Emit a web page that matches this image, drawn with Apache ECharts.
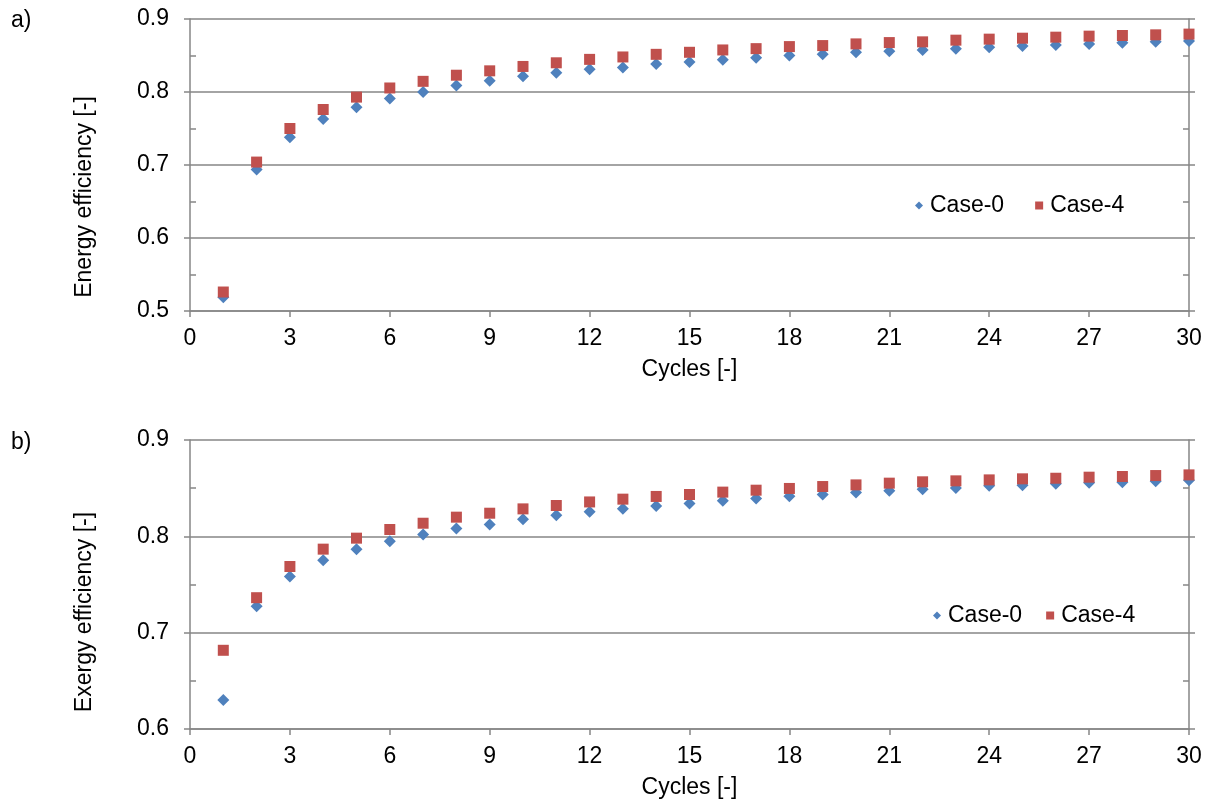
<!DOCTYPE html>
<html>
<head>
<meta charset="utf-8">
<script src="https://cdn.jsdelivr.net/npm/echarts@6/dist/echarts.min.js"></script>
<style>
html,body{margin:0;padding:0;background:#fff;}
#c{width:1218px;height:806px;}
</style>
</head>
<body>
<div id="c"></div>
<script>
const cycles = [1,2,3,4,5,6,7,8,9,10,11,12,13,14,15,16,17,18,19,20,21,22,23,24,25,26,27,28,29,30];
const energyCase0 = [0.519,0.694,0.738,0.763,0.779,0.791,0.800,0.809,0.8155,0.8215,0.8265,0.831,0.8336,0.8383,0.841,0.8442,0.847,0.850,0.8516,0.8544,0.8558,0.8576,0.8594,0.8613,0.8631,0.8645,0.8659,0.8673,0.8687,0.870];
const energyCase4 = [0.526,0.704,0.750,0.776,0.793,0.8055,0.8146,0.823,0.829,0.835,0.840,0.8447,0.848,0.8516,0.8544,0.8576,0.8594,0.8622,0.8636,0.8659,0.8677,0.8687,0.871,0.8724,0.8737,0.8751,0.8765,0.8774,0.8783,0.8793];
const exergyCase0 = [0.630,0.7273,0.7584,0.7753,0.7867,0.795,0.8019,0.8081,0.8123,0.8178,0.8219,0.8254,0.8286,0.8314,0.834,0.8369,0.8393,0.8417,0.8434,0.8455,0.8473,0.849,0.8503,0.8524,0.8531,0.8545,0.8555,0.8562,0.8572,0.8583];
const exergyCase4 = [0.6817,0.7363,0.7687,0.7867,0.7981,0.8071,0.8136,0.8199,0.824,0.8285,0.832,0.8357,0.8386,0.8414,0.8434,0.8459,0.8479,0.8497,0.8517,0.8534,0.8552,0.8566,0.8576,0.8586,0.8597,0.8603,0.8614,0.8621,0.8631,0.8638];
const seriesNames = ['Case-0','Case-4'];
const xTitle = 'Cycles [-]';
const yTitles = ['Energy efficiency [-]','Exergy efficiency [-]'];
const panelLabels = ['a)','b)'];

const FONT = 'Liberation Sans, Arial, sans-serif';
const AX = '#868686';
const BLUE = '#4F81BD';
const RED = '#C0504D';
const FS = 23;

function pair(xs, ys){ return xs.map((x,i)=>[x, ys[i]]); }

function xAxisCfg(gi){
  return {
    type:'value', gridIndex:gi, min:0, max:30, interval:3,
    name:xTitle, nameLocation:'middle', nameGap:47,
    nameTextStyle:{fontFamily:FONT, fontSize:FS, color:'#000'},
    axisLine:{show:true, lineStyle:{color:AX, width:1.5}},
    axisTick:{show:true, length:6, lineStyle:{color:AX, width:1.5}},
    axisLabel:{fontFamily:FONT, fontSize:FS, color:'#000', margin:16},
    splitLine:{show:false}
  };
}
function yAxisCfg(gi, min, pos){
  const left = pos === 'left';
  return {
    type:'value', gridIndex:gi, position:pos, min:min, max:0.9, interval:0.1,
    axisLine:{show:true, onZero:false, lineStyle:{color:AX, width:1.5}},
    axisTick:{show:true, length:6, lineStyle:{color:AX, width:1.5}},
    minorTick:{show:true, splitNumber:2, length:-6, lineStyle:{color:AX, width:1.5}},
    axisLabel:{show:left, fontFamily:FONT, fontSize:FS, color:'#000', margin:21,
      formatter:v=>v.toFixed(1)},
    splitLine:{show:left, lineStyle:{color:AX, width:1.5}}
  };
}
function scatter(name, data, xi, yi, sym, color, size){
  return {name, type:'scatter', xAxisIndex:xi, yAxisIndex:yi, data, symbol:sym,
    symbolSize:size, itemStyle:{color, opacity:1}, emphasis:{disabled:true}};
}
function legendCfg(left, top, gap){
  return {left, top, padding:0, itemGap:gap, itemWidth:8, itemHeight:8, selectedMode:false,
    textStyle:{fontFamily:FONT, fontSize:FS, color:'#000', padding:[0,0,0,2]},
    data:[{name:seriesNames[0], icon:'diamond', itemStyle:{color:BLUE}},
          {name:seriesNames[1], icon:'rect', itemStyle:{color:RED}}]};
}
function yTitle(text, cy){
  return {type:'text', x:85, y:cy, rotation:Math.PI/2,
    style:{text, fontFamily:FONT, fontSize:FS, fill:'#000', align:'center', verticalAlign:'middle'}};
}

const chart = echarts.init(document.getElementById('c'), null, {renderer:'canvas'});
chart.setOption({
  animation:false,
  backgroundColor:'#fff',
  grid:[
    {left:190, right:29, top:19, height:292},
    {left:190, right:29, top:440, height:289}
  ],
  xAxis:[xAxisCfg(0), xAxisCfg(1)],
  yAxis:[
    yAxisCfg(0, 0.5, 'left'),
    yAxisCfg(0, 0.5, 'right'),
    yAxisCfg(1, 0.6, 'left'),
    yAxisCfg(1, 0.6, 'right')
  ],
  legend:[ legendCfg(915, 194, 31), legendCfg(933, 604, 24) ],
  graphic:[
    {type:'text', left:11, top:9, style:{text:panelLabels[0], fontFamily:FONT, fontSize:FS, fill:'#000'}},
    {type:'text', left:11, top:431, style:{text:panelLabels[1], fontFamily:FONT, fontSize:FS, fill:'#000'}},
    yTitle(yTitles[0], 197),
    yTitle(yTitles[1], 612)
  ],
  series:[
    scatter(seriesNames[0], pair(cycles, energyCase0), 0, 0, 'diamond', BLUE, 12),
    scatter(seriesNames[1], pair(cycles, energyCase4), 0, 0, 'rect', RED, 11),
    scatter(seriesNames[0], pair(cycles, exergyCase0), 1, 2, 'diamond', BLUE, 12),
    scatter(seriesNames[1], pair(cycles, exergyCase4), 1, 2, 'rect', RED, 11)
  ]
});
</script>
</body>
</html>
